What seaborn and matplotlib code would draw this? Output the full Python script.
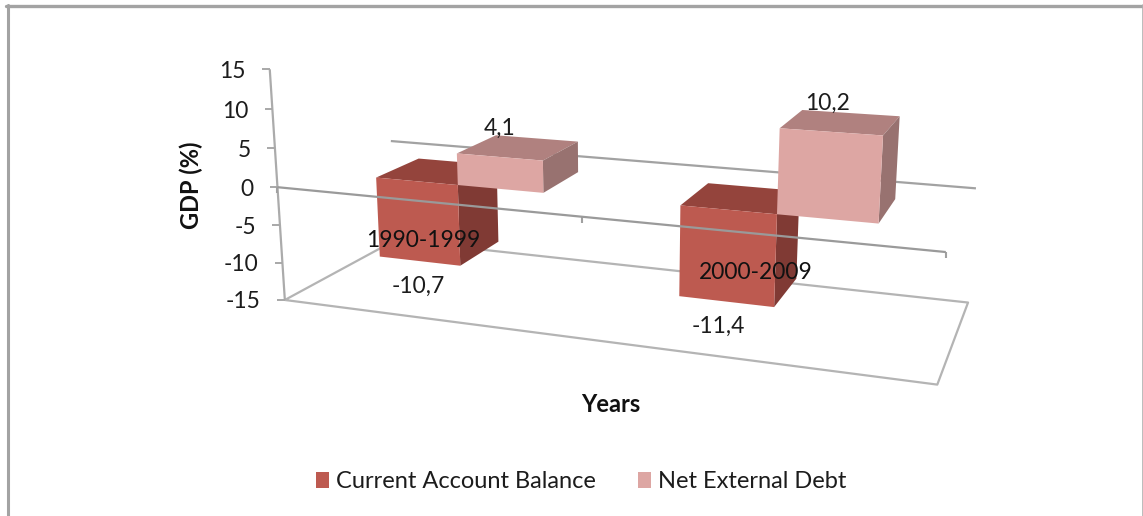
import numpy as np
import pandas as pd
import matplotlib
matplotlib.use("Agg")
import matplotlib.pyplot as plt
from matplotlib.transforms import Transform, Affine2D
from matplotlib.patches import Polygon, Rectangle
from matplotlib.lines import Line2D
import seaborn as sns

# ---- data -------------------------------------------------------------
periods = ["1990-1999", "2000-2009"]
current_account = [-10.7, -11.4]
net_debt = [4.1, 10.2]
series_names = ["Current Account Balance", "Net External Debt"]
value_ticks = [15, 10, 5, 0, -5, -10, -15]
value_labels_ca = ["-10,7", "-11,4"]
value_labels_debt = ["4,1", "10,2"]

W, H = 1143, 516
sns.set_theme(style="white")
plt.rcParams["font.family"] = ["Lato", "DejaVu Sans"]
TEXT = "#1c1c1c"
FS = 16.4
FS_BOLD = 17
FS_LEG = 17

# ---- camera of the 3-D plot: (category, value, depth) -> pixel --------
anchors_3d = [(0, 15, 0), (0, -15, 0), (0, 0, 0), (1, 0, 0), (2, 0, 0), (2, -15, 0),
              (0, 0, 1), (0, -15, 1), (2, 0, 1), (2, -15, 1)]
anchors_px = [(269, 69), (286, 299), (277, 187), (582, 218), (945, 252), (938, 385),
              (393, 141), (393, 241), (976, 188), (968, 302)]
A = []
b = []
for (u, v, d), (x, y) in zip(anchors_3d, anchors_px):
    A.append([u, v, d, 1, 0, 0, 0, 0, -x*u, -x*v, -x*d]); b.append(x)
    A.append([0, 0, 0, 0, u, v, d, 1, -y*u, -y*v, -y*d]); b.append(y)
P = np.append(np.linalg.lstsq(np.array(A, float), np.array(b, float), rcond=None)[0], 1).reshape(3, 4)


def project(u, v, d):
    q = P @ np.vstack([u, v, d, np.ones_like(np.asarray(u, float))])
    return q[0] / q[2], q[1] / q[2]


CENTER = 0.5075


class Plane(Transform):
    """Maps (category index, value) at a fixed depth to display pixels."""
    input_dims = output_dims = 2
    is_separable = False
    has_inverse = False

    def __init__(self, plane_depth):
        super().__init__()
        self.plane_depth = plane_depth

    def transform_non_affine(self, xy):
        xy = np.asarray(xy, float)
        px, py = project(xy[:, 0] + CENTER, xy[:, 1], np.full(len(xy), self.plane_depth))
        return np.column_stack([px, H - py])


D0, D1 = 0.30, 0.70
BW = 0.285
COL = {0: dict(front="#BD5A50", top="#94443C", side="#803A34"),
       1: dict(front="#DDA6A3", top="#B0817F", side="#987270")}

fig = plt.figure(figsize=(W / 100, H / 100), dpi=100, facecolor="white")
ax = fig.add_axes([0, 0, 1, 1])

df = pd.DataFrame({
    "period": periods * 2,
    "value": current_account + net_debt,
    "series": [series_names[0]] * 2 + [series_names[1]] * 2,
})
sns.barplot(data=df, x="period", y="value", hue="series", palette=[COL[0]["front"], COL[1]["front"]],
            width=2 * BW, gap=0, dodge=True, legend=False, ax=ax, saturation=1, errorbar=None)
ax.set_xlim(-1, 3)
ax.set_ylim(-20, 20)
ax.axis("off")

front_plane = Plane(0)


def line(pts, color="#ababab", lw=1.6, z=1):
    """pts: (category, value, depth)"""
    pts = np.array(pts, float)
    px, py = project(pts[:, 0], pts[:, 1], pts[:, 2])
    ax.add_line(Line2D(px, H - py, transform=Affine2D(), color=color, lw=lw, zorder=z,
                       solid_capstyle="butt", clip_on=False))


# walls, floor, axes
vmin, vmax = value_ticks[-1], value_ticks[0]
line([(0, vmin, 0), (2, vmin, 0), (2, vmin, 1), (0, vmin, 1), (0, vmin, 0)], "#b4b4b4", 1.6)
line([(0, 0, 1), (2, 0, 1)], "#a2a2a2", 1.6)
line([(0, vmax, 0), (0, vmin, 0)], "#ababab", 1.6)
for t in value_ticks:
    px, py = project(np.array([0.]), np.array([float(t)]), np.array([0.]))
    ax.plot([px[0] - 7.5, px[0]], [H - py[0]] * 2, transform=Affine2D(), color="#a8a8a8", lw=1.4,
            zorder=1, clip_on=False, solid_capstyle="butt")
    ax.text(px[0] - 24, H - py[0], f"{t}", transform=Affine2D(), ha="right", va="center_baseline",
            fontsize=FS, color=TEXT)


def face(pts, color, z):
    pts = np.array(pts, float)
    px, py = project(pts[:, 0], pts[:, 1], pts[:, 2])
    ax.add_patch(Polygon(np.column_stack([px, H - py]), closed=True, transform=Affine2D(),
                         facecolor=color, edgecolor="none", zorder=z, clip_on=False))


bars = [p for p in ax.patches if isinstance(p, Rectangle) and p.get_width() > 0]
bars = sorted(bars, key=lambda p: p.get_x())
series_of = [0, 1, 0, 1]
values = [current_account[0], net_debt[0], current_account[1], net_debt[1]]
for bar, s, val in zip(bars, series_of, values):
    z = 2 + s
    x0 = bar.get_x() + CENTER
    x1 = x0 + bar.get_width()
    hi, lo = max(val, 0), min(val, 0)
    face([(x0, hi, D0), (x1, hi, D0), (x1, hi, D1), (x0, hi, D1)], COL[s]["top"], z)
    face([(x1, hi, D0), (x1, lo, D0), (x1, lo, D1), (x1, hi, D1)], COL[s]["side"], z)
    bar.set_transform(Plane(D0))
    bar.set_linewidth(0)
    bar.set_clip_on(False)
    bar.set_zorder(z + 0.1)

# front zero line with category ticks
line([(0, 0, 0), (2, 0, 0)], "#9a9a9a", 1.6, z=4)
for i in range(3):
    px, py = project(np.array([float(i)]), np.array([0.]), np.array([0.]))
    ax.plot([px[0]] * 2, [H - py[0], H - py[0] - 6], transform=Affine2D(), color="#a0a0a0", lw=1.5, zorder=1,
            clip_on=False, solid_capstyle="butt")

# category labels
dx_cat = [-2, -2]
for i, name in enumerate(periods):
    ax.annotate(name, xy=(i, 0), xycoords=front_plane, xytext=(dx_cat[i], -37),
                textcoords="offset pixels", ha="center", va="center_baseline", fontsize=FS, color="#111111", zorder=6)

# value labels
dx_ca = [-1, -8]
dx_debt = [-37, -23]
for i in range(2):
    ax.annotate(value_labels_ca[i], xy=(i - BW / 2, current_account[i]), xycoords=Plane(D0),
                xytext=(dx_ca[i], -23), textcoords="offset pixels", ha="center", va="center_baseline",
                fontsize=FS, color=TEXT, zorder=6)
    ax.annotate(value_labels_debt[i], xy=(i + BW / 2, net_debt[i]), xycoords=Plane(D1),
                xytext=(dx_debt[i], 12), textcoords="offset pixels", ha="center", va="center_baseline",
                fontsize=FS, color=TEXT, zorder=6)

# axis titles
fig.text(191 / W, 1 - 185 / H, "GDP (%)", rotation=90, ha="center", va="center",
         fontsize=FS_BOLD, fontweight="bold", color="#111111")
fig.text(611 / W, 1 - 404 / H, "Years", ha="center", va="center",
         fontsize=FS_BOLD, fontweight="bold", color="#111111")

# legend
handles = [Rectangle((0, 0), 1, 1, facecolor=COL[0]["front"], edgecolor="none"),
           Rectangle((0, 0), 1, 1, facecolor=COL[1]["front"], edgecolor="none")]
fig.legend(handles, series_names, loc="center", bbox_to_anchor=(581 / W, 1 - 482 / H), ncol=2,
           frameon=False, fontsize=FS_LEG, handlelength=0.55, handleheight=0.63, handletextpad=0.3,
           columnspacing=1.78, labelcolor=TEXT, borderpad=0)

# outer chart frame
frame = "#a3a3a3"
fig.add_artist(Line2D([7.5 / W, 7.5 / W], [0, 1 - 5 / H], color=frame, lw=2.2, transform=fig.transFigure))
fig.add_artist(Line2D([6 / W, 1], [1 - 5.5 / H] * 2, color=frame, lw=2.4, transform=fig.transFigure))
fig.add_artist(Line2D([1142.5 / W] * 2, [0, 1 - 5 / H], color="#b0b0b0", lw=1.2, transform=fig.transFigure))

fig.savefig("out.png", dpi=100, facecolor="white")
